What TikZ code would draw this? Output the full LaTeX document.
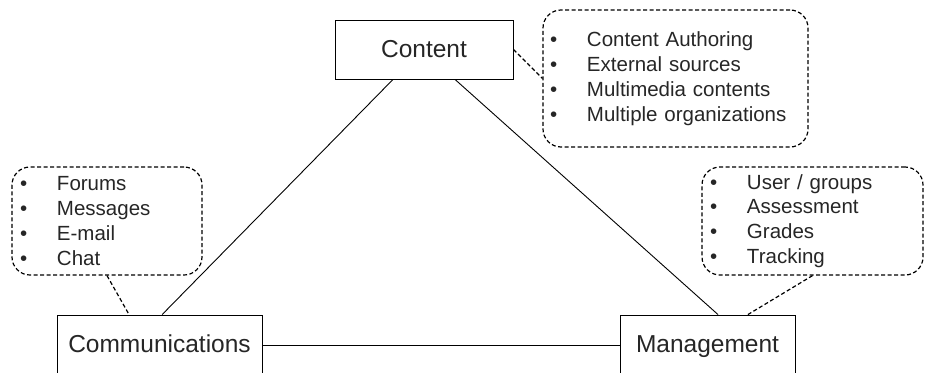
\documentclass[tikz,border=0pt]{standalone}
\usepackage{fontspec}
\setmainfont{Liberation Sans}
\usetikzlibrary{positioning}
\tikzset{
	x=1pt, y=-1pt,
	area/.style={draw, rectangle, line width=0.9pt, text=black!85, font=\fontsize{24.5}{29}\selectfont, inner sep=0pt, text height=20pt, text depth=5pt},
	bubble/.style={draw, dashed, dash pattern=on 4pt off 2.5pt, line width=1.2pt, rounded corners=18pt, align=left, text=black!85, font=\fontsize{20.5}{24.8}\selectfont, minimum height=108pt},
	link/.style={line width=0.9pt},
	note/.style={dashed, dash pattern=on 4pt off 2.5pt, line width=1.2pt}
}
\newcommand{\itembul}{\makebox[37pt][l]{\textbullet}}

\begin{document}
\begin{tikzpicture}
	\useasboundingbox (0,0) rectangle (925,372);
	\clip (0,0) rectangle (925,372);

	\node (content) [area, minimum width=178pt, minimum height=59pt] at (424,49.5) {Content};
	\node (comm) [area, minimum width=205pt, minimum height=60pt] at (159.5,345) {Communications};
	\node (mgmt) [area, minimum width=175pt, minimum height=60pt] at (707.5,345) {Management};

	\node (contentlist) [bubble, text width=251pt, inner xsep=7pt, minimum height=137pt] at (675.5,78.5)
		{\itembul Content Authoring\\ \itembul External sources\\ \itembul Multimedia contents\\ \itembul Multiple organizations};
	\node (commlist) [bubble, text width=174pt, inner xsep=8pt] at (107,221)
		{\itembul Forums\\ \itembul Messages\\ \itembul E-mail\\ \itembul Chat};
	\node (mgmtlist) [bubble, text width=205pt, inner xsep=8pt] at (812.5,221)
		{\itembul User / groups\\ \itembul Assessment\\ \itembul Grades\\ \itembul Tracking};

	\draw[link] (comm.85) -- (content.224);
	\draw[link] (content.-44) -- (mgmt.71);
	\draw[link] (comm.east) -- (mgmt.west);

	\draw[note] (content.east) -- (contentlist.west);
	\draw[note] (commlist.south) -- (comm.135);
	\draw[note] (mgmtlist.south) -- (mgmt.37);
\end{tikzpicture}
\end{document}
